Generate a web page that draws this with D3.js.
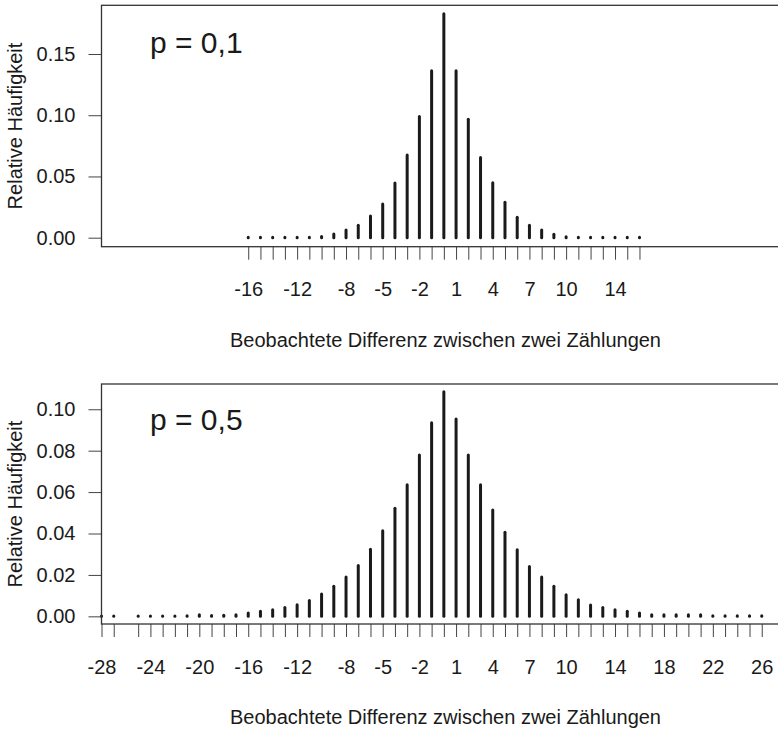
<!DOCTYPE html>
<html>
<head>
<meta charset="utf-8">
<script src="https://cdn.jsdelivr.net/npm/d3@7"></script>
<style>
  body { margin: 0; background: #fff; }
  svg { display: block; font-family: "Liberation Sans", Arial, sans-serif; }
</style>
</head>
<body>
<div id="chart"></div>
<script>
// p = 0,1
const topDiffs = [-16, -15, -14, -13, -12, -11, -10, -9, -8, -7, -6, -5, -4, -3, -2, -1, 0,
  1, 2, 3, 4, 5, 6, 7, 8, 9, 10, 11, 12, 13, 14, 15, 16];
const topFreq = [0.0004, 0.0004, 0.0004, 0.0004, 0.0004, 0.0004, 0.0010, 0.0030, 0.0063, 0.0101,
  0.0177, 0.0275, 0.0447, 0.0676, 0.0989, 0.1364, 0.1828, 0.1364, 0.0967, 0.0654, 0.0449,
  0.0289, 0.0167, 0.0101, 0.0063, 0.0028, 0.0008, 0.0004, 0.0004, 0.0004, 0.0004, 0.0004, 0.0004];
const topTickLabels = [-16, -12, -8, -5, -2, 1, 4, 7, 10, 14];
const topYTicks = [0, 0.05, 0.10, 0.15];

// p = 0,5
const botDiffs = [-28, -27, -25, -24, -23, -22, -21, -20, -19, -18, -17, -16, -15, -14, -13, -12,
  -11, -10, -9, -8, -7, -6, -5, -4, -3, -2, -1, 0, 1, 2, 3, 4, 5, 6, 7, 8, 9, 10, 11, 12, 13,
  14, 15, 16, 17, 18, 19, 20, 21, 22, 23, 24, 25, 26];
const botFreq = [0.0002, 0.0002, 0.0002, 0.0002, 0.0002, 0.0002, 0.0003, 0.0008, 0.0004, 0.0005,
  0.0008, 0.0016, 0.0024, 0.0032, 0.0043, 0.0056, 0.0076, 0.0108, 0.0145, 0.0190, 0.0246,
  0.0324, 0.0413, 0.0522, 0.0635, 0.0779, 0.0935, 0.1084, 0.0953, 0.0779, 0.0635, 0.0514,
  0.0406, 0.0321, 0.0241, 0.0190, 0.0145, 0.0104, 0.0080, 0.0055, 0.0043, 0.0032, 0.0024,
  0.0016, 0.0008, 0.0008, 0.0008, 0.0008, 0.0008, 0.0003, 0.0003, 0.0003, 0.0003, 0.0003];
const botTickLabels = [-28, -24, -20, -16, -12, -8, -5, -2, 1, 4, 7, 10, 14, 18, 22, 26];
const botYTicks = [0, 0.02, 0.04, 0.06, 0.08, 0.10];

const xLabel = "Beobachtete Differenz zwischen zwei Zählungen";
const yLabel = "Relative Häufigkeit";

const width = 778, height = 731;
const ink = "#1a1a1a";

const svg = d3.select("#chart").append("svg")
  .attr("width", width)
  .attr("height", height);

function panel(cfg) {
  let x = d3.scaleLinear().domain([-28, 28]).range([101.5, 786.2]);
  let y = d3.scaleLinear().domain(cfg.yDomain).range([cfg.bottom, cfg.top]);

  const g = svg.append("g");

  // spikes (type = "h")
  g.selectAll("line.spike")
    .data(cfg.diffs.map((d, i) => ({ d: d, f: cfg.freq[i] })))
    .enter().append("line")
    .attr("class", "spike")
    .attr("x1", d => x(d.d))
    .attr("x2", d => x(d.d))
    .attr("y1", y(0))
    .attr("y2", d => y(d.f))
    .attr("stroke", ink)
    .attr("stroke-width", 3)
    .attr("stroke-linecap", "round");

  // x axis: a tick for every observed value, labels only where they fit
  let xAxis = d3.axisBottom(x)
    .tickValues(cfg.diffs)
    .tickSize(13)
    .tickPadding(4)
    .tickFormat(d => cfg.labels.indexOf(d) >= 0 ? d : "");
  const gx = g.append("g")
    .attr("transform", "translate(0," + cfg.bottom + ")")
    .call(xAxis);
  gx.select(".domain").remove();
  gx.selectAll(".tick line").attr("stroke", "#444").attr("stroke-width", 1);
  gx.selectAll(".tick text")
    .attr("fill", ink)
    .attr("y", 49.5)
    .attr("dy", null)
    .style("font-size", "20px")
    .text(d => cfg.labels.indexOf(d) >= 0 ? String(d) : "");

  // y axis
  let yAxis = d3.axisLeft(y)
    .tickValues(cfg.yTicks)
    .tickSize(13)
    .tickPadding(13)
    .tickFormat(d3.format(".2f"));
  const gy = g.append("g")
    .attr("transform", "translate(101.5,0)")
    .call(yAxis);
  gy.select(".domain").remove();
  gy.selectAll(".tick line").attr("stroke", "#444").attr("stroke-width", 1);
  gy.selectAll(".tick text")
    .attr("fill", ink)
    .style("font-size", "20px");

  // box
  g.append("rect")
    .attr("x", x.range()[0])
    .attr("y", cfg.top)
    .attr("width", x.range()[1] - x.range()[0])
    .attr("height", cfg.bottom - cfg.top)
    .attr("fill", "none")
    .attr("stroke", "#333")
    .attr("stroke-width", 1.3);

  // annotation
  g.append("text")
    .attr("x", 150)
    .attr("y", cfg.titleY)
    .attr("fill", ink)
    .style("font-size", "30px")
    .text(cfg.title);

  // axis titles
  g.append("text")
    .attr("x", 445.5)
    .attr("y", cfg.bottom + 100)
    .attr("text-anchor", "middle")
    .attr("fill", ink)
    .style("font-size", "20px")
    .text(xLabel);

  g.append("text")
    .attr("transform", "translate(22," + ((cfg.top + cfg.bottom) / 2) + ") rotate(-90)")
    .attr("text-anchor", "middle")
    .attr("fill", ink)
    .style("font-size", "20px")
    .text(yLabel);
}

panel({
  diffs: topDiffs, freq: topFreq, labels: topTickLabels, yTicks: topYTicks,
  yDomain: [-0.00735, 0.18976], top: 5.3, bottom: 246.7,
  title: "p = 0,1", titleY: 53
});

panel({
  diffs: botDiffs, freq: botFreq, labels: botTickLabels, yTicks: botYTicks,
  yDomain: [-0.0037, 0.1122], top: 384, bottom: 624,
  title: "p = 0,5", titleY: 430
});
</script>
</body>
</html>
